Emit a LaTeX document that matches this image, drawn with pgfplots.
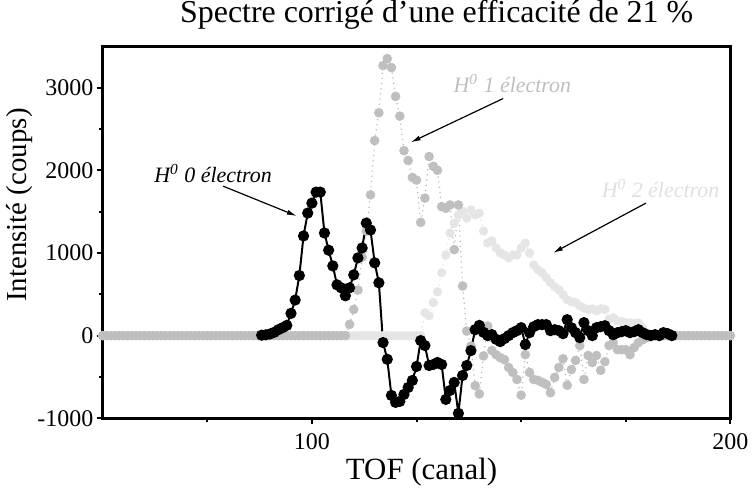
\documentclass[border=0pt]{standalone}
\usepackage{fontspec}
\setmainfont{Liberation Serif}
\usepackage{pgfplots}
\pgfplotsset{compat=1.18}
\usetikzlibrary{arrows.meta}

% H0 0 electron (black)
\pgfplotstableread{
x y
88 5
89 10
90 20
91 40
92 72
93 96
94 124
95 269
96 430
97 727
98 1205
99 1482
100 1602
101 1735
102 1735
103 1241
104 1033
105 843
106 614
107 578
108 482
109 578
110 735
111 940
112 1060
113 1361
114 1277
115 880
116 639
117 -84
118 -286
119 -723
120 -807
121 -795
122 -711
123 -627
124 -542
125 -373
126 -60
127 -120
128 -361
129 -349
130 -325
131 -349
132 -771
133 -663
134 -566
135 -940
136 -482
137 -361
138 -181
139 72
140 124
141 40
142 0
143 12
144 -44
145 -72
146 -36
147 0
148 36
149 60
150 96
151 -108
152 36
153 108
154 133
155 133
156 133
157 60
158 72
159 60
160 24
161 193
162 96
163 36
164 -24
165 157
166 60
167 0
168 96
169 108
170 120
171 60
172 12
173 36
174 48
175 60
176 36
177 48
178 72
179 36
180 12
181 0
182 12
183 0
184 36
185 24
186 0
}\zeroel

% H0 1 electron (grey)
\pgfplotstableread{
x y
50 0
51 0
52 0
53 0
54 0
55 0
56 0
57 0
58 0
59 0
60 0
61 0
62 0
63 0
64 0
65 0
66 0
67 0
68 0
69 0
70 0
71 0
72 0
73 0
74 0
75 0
76 0
77 0
78 0
79 0
80 0
81 0
82 0
83 0
84 0
85 0
86 0
87 0
88 0
89 0
90 0
91 0
92 0
93 0
94 0
95 0
96 0
97 0
98 0
99 0
100 0
101 0
102 0
103 0
104 0
105 0
106 0
107 0
108 0
109 136
110 317
111 551
112 950
113 1265
114 1702
115 2358
116 2695
117 3265
118 3349
119 3241
120 2892
121 2654
122 2237
123 2117
124 1912
125 1880
126 1370
127 1663
128 2165
129 2048
130 2000
131 1560
132 1540
133 1580
134 1040
135 1580
136 600
137 55
138 -125
139 -605
140 -705
141 -245
142 115
143 -180
144 -230
145 -265
146 -290
147 -385
148 -445
149 -530
150 -720
151 -230
152 -445
153 -530
154 -540
155 -565
156 -590
157 -690
158 -505
159 -385
160 -280
161 -600
162 -410
163 -300
164 -120
165 -530
166 -240
167 -325
168 -240
169 -420
170 -315
171 -120
172 -85
173 -170
174 -170
175 -170
176 -230
177 -145
178 -85
179 -50
180 -25
181 0
182 0
183 0
184 0
185 0
186 0
187 0
188 0
189 0
190 0
191 0
192 0
193 0
194 0
195 0
196 0
197 0
198 0
199 0
200 0
}\oneel

% H0 2 electron (light grey)
\pgfplotstableread{
x y
50 0
51 0
52 0
53 0
54 0
55 0
56 0
57 0
58 0
59 0
60 0
61 0
62 0
63 0
64 0
65 0
66 0
67 0
68 0
69 0
70 0
71 0
72 0
73 0
74 0
75 0
76 0
77 0
78 0
79 0
80 0
81 0
82 0
83 0
84 0
85 0
86 0
87 0
88 0
89 0
90 0
91 0
92 0
93 0
94 0
95 0
96 0
97 0
98 0
99 0
100 0
101 0
102 0
103 0
104 0
105 0
106 0
107 0
108 0
109 0
110 0
111 0
112 0
113 0
114 0
115 0
116 0
117 0
118 0
119 0
120 0
121 0
122 0
123 0
124 0
125 0
126 0
127 277
128 240
129 400
130 530
131 760
132 975
133 1240
134 1360
135 1460
136 1505
137 1420
138 1520
139 1460
140 1480
141 1265
142 1120
143 1145
144 1060
145 1000
146 975
147 940
148 975
149 975
150 1060
151 1120
152 1000
153 855
154 795
155 760
156 700
157 640
158 590
159 555
160 495
161 435
162 410
163 400
164 360
165 335
166 315
167 325
168 300
169 325
170 315
171 195
172 215
173 180
174 170
175 155
176 155
177 145
178 155
179 95
180 35
181 0
182 0
183 0
184 0
185 0
186 0
187 0
188 0
189 0
190 0
191 0
192 0
193 0
194 0
195 0
196 0
197 0
198 0
199 0
200 0
}\twoel

\begin{document}
\begin{tikzpicture}
\begin{axis}[
    scale only axis,
    width=315pt, height=186.75pt,
    xmin=50, xmax=200,
    ymin=-1000, ymax=3500,
    xtick={100,200},
    minor xtick={75,125,150,175},
    ytick={-1000,0,1000,2000,3000},
    minor ytick={-500,500,1500,2500},
    xtick pos=left, ytick pos=left,
    tick align=outside,
    major tick length=3pt, minor tick length=2pt,
    axis line style={line width=1.5pt},
    every tick/.style={black, line width=1pt},
    /pgf/number format/assume math mode=true,
    /pgf/number format/1000 sep={},
    tick label style={font=\fontsize{12}{14}\selectfont},
    yticklabel style={inner sep=1.5pt},
    xticklabel style={yshift=-1pt},
    title={Spectre corrigé d'une efficacité de 21 \%},
    title style={at={(axis description cs:0.532,1.012)}, anchor=south,
        inner sep=0pt, font=\fontsize{16}{19}\selectfont},
    xlabel={TOF (canal)},
    xlabel style={at={(axis description cs:0.508,-0.145)}, anchor=center,
        font=\fontsize{15.5}{18}\selectfont},
    ylabel={Intensité (coups)},
    ylabel style={at={(axis description cs:-0.132,0.573)}, anchor=center,
        font=\fontsize{14.5}{17}\selectfont},
]
\addplot[gray!22, dotted, line width=0.6pt, mark=*, mark size=2pt,
    mark options={solid, fill=gray!20, draw=gray!20}] table {\twoel};
\addplot[gray!55, dotted, line width=0.6pt, mark=*, mark size=2.1pt,
    mark options={solid, fill=gray!50, draw=gray!50}] table {\oneel};
\addplot[black, line width=1pt, mark=*, mark size=2.3pt,
    mark options={fill=black}] table {\zeroel};

\node[font=\fontsize{11}{13}\selectfont\itshape] at (axis cs:76.4,1964)
    {H\textsuperscript{0} 0 électron};
\draw[-{Latex[length=5pt,width=2.5pt]}, line width=0.6pt]
    (axis cs:78.8,1807) -- (axis cs:96.4,1446);

\node[font=\fontsize{11}{13}\selectfont\itshape, text=gray!50] at (axis cs:147.9,3048)
    {H\textsuperscript{0} 1 électron};
\draw[-{Latex[length=5pt,width=2.5pt]}, line width=0.6pt]
    (axis cs:145.7,2867) -- (axis cs:123.6,2337);

\node[font=\fontsize{11}{13}\selectfont\itshape, text=gray!25] at (axis cs:183.3,1783)
    {H\textsuperscript{0} 2 électron};
\draw[-{Latex[length=5pt,width=2.5pt]}, line width=0.6pt]
    (axis cs:179.8,1602) -- (axis cs:157.6,1000);
\end{axis}
\end{tikzpicture}
\end{document}
